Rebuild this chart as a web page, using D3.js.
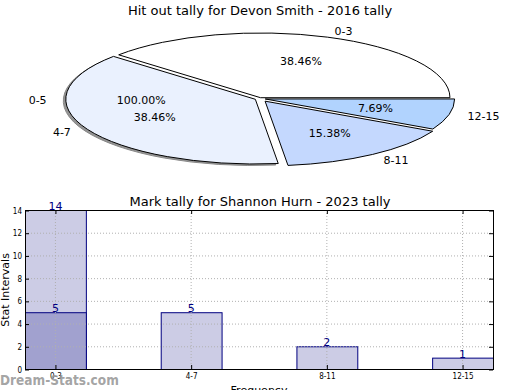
<!DOCTYPE html>
<html>
<head>
<meta charset="utf-8">
<script src="https://cdn.jsdelivr.net/npm/d3@7"></script>
<style>
  body { margin: 0; background: #fff; }
  svg { display: block; font-family: "DejaVu Sans", sans-serif; }
</style>
</head>
<body>
<div id="chart"></div>
<script>
// pie: hit out tally
const pieLabels = ["0-3", "4-7", "8-11", "12-15"];
const pieValues = [5, 5, 2, 1];
const pieExplode = [0.013, 0.026, 0.05, 0.03];
const pieColors = ["#ffffff", "#eaf1fe", "#c4d8fe", "#b1d3fe"];
// stray label drawn by the original at the left side
const ghostLabel = "0-5";
const ghostPct = "100.00%";

// bars: mark tally
const barCategories = ["0-3", "4-7", "8-11", "12-15"];
const barValues = [14, 5, 2, 1];
const barValues2 = [5, null, null, null];
const yTicks = [0, 2, 4, 6, 8, 10, 12, 14];

const width = 520, height = 390;
const svg = d3.select("#chart").append("svg")
    .attr("width", width)
    .attr("height", height);

// ---------- pie ----------
svg.append("text")
    .attr("x", 260).attr("y", 15)
    .attr("text-anchor", "middle")
    .attr("font-size", 13)
    .text("Hit out tally for Devon Smith - 2016 tally");

const cx = 259.7, cy = 98.5, rx = 189.4, ry = 64.7;
const total = d3.sum(pieValues);
const pct = d3.format(".2f");

// matplotlib style: start at east, go counterclockwise
const pie = d3.pie().sort(null)
    .startAngle(Math.PI / 2)
    .endAngle(Math.PI / 2 - 2 * Math.PI);
const arcs = pie(pieValues);
const arc = d3.arc().innerRadius(0).outerRadius(1);

function offset(d, i) {
    const a = (d.startAngle + d.endAngle) / 2;
    const e = pieExplode[i];
    return [cx + e * rx * Math.sin(a), cy - e * ry * Math.cos(a), a];
}

const pieG = svg.append("g");

// soft shadow only shows on the big lower left wedge
pieG.selectAll("path.shadow").data(arcs.filter((d, i) => i === 1)).enter().append("path")
    .attr("class", "shadow")
    .attr("d", arc)
    .attr("transform", d => {
        const o = offset(d, d.index);
        return "translate(" + (o[0] - 2.5) + "," + (o[1] + 1.5) + ") scale(" + rx + "," + ry + ")";
    })
    .attr("fill", "#4d4d4d")
    .attr("fill-opacity", 0.6)
    .attr("stroke", "#888")
    .attr("stroke-width", 1)
    .attr("vector-effect", "non-scaling-stroke");

pieG.selectAll("path.wedge").data(arcs).enter().append("path")
    .attr("class", "wedge")
    .attr("d", arc)
    .attr("transform", (d, i) => {
        const o = offset(d, i);
        return "translate(" + o[0] + "," + o[1] + ") scale(" + rx + "," + ry + ")";
    })
    .attr("fill", (d, i) => pieColors[i])
    .attr("stroke", "#000")
    .attr("stroke-width", 1)
    .attr("vector-effect", "non-scaling-stroke");

pieG.selectAll("text.lbl").data(arcs).enter().append("text")
    .attr("class", "lbl")
    .attr("x", (d, i) => { const o = offset(d, i); return o[0] + 1.1 * rx * Math.sin(o[2]); })
    .attr("y", (d, i) => { const o = offset(d, i); return o[1] - 1.1 * ry * Math.cos(o[2]); })
    .attr("dy", "0.35em")
    .attr("text-anchor", (d, i) => Math.sin(offset(d, i)[2]) > 0 ? "start" : "end")
    .attr("font-size", 11)
    .text((d, i) => pieLabels[i]);

pieG.selectAll("text.pct").data(arcs).enter().append("text")
    .attr("class", "pct")
    .attr("x", (d, i) => { const o = offset(d, i); return o[0] + 0.6 * rx * Math.sin(o[2]); })
    .attr("y", (d, i) => { const o = offset(d, i); return o[1] - 0.6 * ry * Math.cos(o[2]); })
    .attr("dy", "0.35em")
    .attr("text-anchor", "middle")
    .attr("font-size", 11)
    .text(d => pct(d.value / total * 100) + "%");

// the stray 0-5 label sits at the west point
const gx = cx - 0.025 * rx, gy = cy + 1.5;
pieG.append("text")
    .attr("x", gx - 1.1 * rx).attr("y", gy).attr("dy", "0.35em")
    .attr("text-anchor", "end").attr("font-size", 11)
    .text(ghostLabel);
pieG.append("text")
    .attr("x", gx - 0.6 * rx).attr("y", gy).attr("dy", "0.35em")
    .attr("text-anchor", "middle").attr("font-size", 11)
    .text(ghostPct);

// ---------- bars ----------
const plot = { left: 25, right: 493, top: 210, bottom: 369 };

const x = d3.scaleBand()
    .domain(barCategories)
    .range([plot.left, plot.right])
    .paddingInner(0.5515)
    .paddingOuter(0);

const y = d3.scaleLinear()
    .domain([0, 14])
    .range([plot.bottom, plot.top]);

svg.append("text")
    .attr("x", 260).attr("y", 206)
    .attr("text-anchor", "middle")
    .attr("font-size", 13)
    .text("Mark tally for Shannon Hurn - 2023 tally");

const grid = svg.append("g")
    .attr("stroke", "#b0b0b0")
    .attr("stroke-dasharray", "1,2");
grid.selectAll("line.gy").data(yTicks.slice(1, -1)).enter().append("line")
    .attr("x1", plot.left).attr("x2", plot.right)
    .attr("y1", d => y(d) + 0.5).attr("y2", d => y(d) + 0.5);

const barG = svg.append("g");
barG.selectAll("rect.b1").data(barValues).enter().append("rect")
    .attr("x", (d, i) => x(barCategories[i]) + 0.5)
    .attr("y", d => y(d) + 0.5)
    .attr("width", x.bandwidth())
    .attr("height", d => y(0) - y(d))
    .attr("fill", "#cccce5")
    .attr("stroke", "#000080")
    .attr("stroke-width", 1);

barG.selectAll("rect.b2").data(barValues2.filter(v => v != null)).enter().append("rect")
    .attr("x", (d, i) => x(barCategories[i]) + 0.5)
    .attr("y", d => y(d) + 0.5)
    .attr("width", x.bandwidth())
    .attr("height", d => y(0) - y(d))
    .attr("fill", "#a1a1cf")
    .attr("stroke", "#000080")
    .attr("stroke-width", 1);

// vertical grid over the bars
grid.raise();
grid.selectAll("line.gx").data(barCategories).enter().append("line")
    .attr("x1", d => x(d) + x.bandwidth() / 2).attr("x2", d => x(d) + x.bandwidth() / 2)
    .attr("y1", plot.top).attr("y2", plot.bottom);

const labelData = barValues.map((v, i) => ({ c: barCategories[i], v: v }))
    .concat(barValues2.map((v, i) => ({ c: barCategories[i], v: v })).filter(d => d.v != null));
svg.append("g").selectAll("text").data(labelData).enter().append("text")
    .attr("x", d => x(d.c) + x.bandwidth() / 2)
    .attr("y", d => y(d.v))
    .attr("text-anchor", "middle")
    .attr("font-size", 11)
    .attr("fill", "#000080")
    .text(d => d.v);

// axes: inward ticks on all four sides
const axisFont = "DejaVu Sans Condensed, DejaVu Sans, sans-serif";
const yAxis = svg.append("g")
    .attr("transform", "translate(" + plot.left + ",0.5)")
    .call(d3.axisLeft(y).tickValues(yTicks).tickSize(-4).tickPadding(3));
yAxis.select(".domain").remove();
yAxis.selectAll("text").attr("font-size", 8).attr("font-family", axisFont);

const yAxisR = svg.append("g")
    .attr("transform", "translate(" + plot.right + ",0.5)")
    .call(d3.axisRight(y).tickValues(yTicks).tickSize(-4).tickFormat(""));
yAxisR.select(".domain").remove();

const xAxis = svg.append("g")
    .attr("transform", "translate(0.5," + plot.bottom + ")")
    .call(d3.axisBottom(x).tickSize(-4).tickPadding(4));
xAxis.select(".domain").remove();
xAxis.selectAll("text").attr("font-size", 8).attr("font-family", axisFont);

const xAxisT = svg.append("g")
    .attr("transform", "translate(0.5," + plot.top + ")")
    .call(d3.axisTop(x).tickSize(-4).tickFormat(""));
xAxisT.select(".domain").remove();

svg.append("rect")
    .attr("x", plot.left + 0.5).attr("y", plot.top + 0.5)
    .attr("width", plot.right - plot.left)
    .attr("height", plot.bottom - plot.top)
    .attr("fill", "none")
    .attr("stroke", "#000")
    .attr("stroke-width", 1);

svg.append("text")
    .attr("x", 259).attr("y", 394)
    .attr("text-anchor", "middle")
    .attr("font-size", 11)
    .text("Frequency");

svg.append("text")
    .attr("transform", "translate(9,290) rotate(-90)")
    .attr("text-anchor", "middle")
    .attr("font-size", 11)
    .text("Stat Intervals");

svg.append("text")
    .attr("x", 0).attr("y", 385)
    .attr("font-family", "DejaVu Sans Condensed, DejaVu Sans, sans-serif")
    .attr("font-size", 13.5)
    .attr("font-weight", "bold")
    .attr("fill", "#999999")
    .attr("fill-opacity", 0.9)
    .text("Dream-Stats.com");
</script>
</body>
</html>
